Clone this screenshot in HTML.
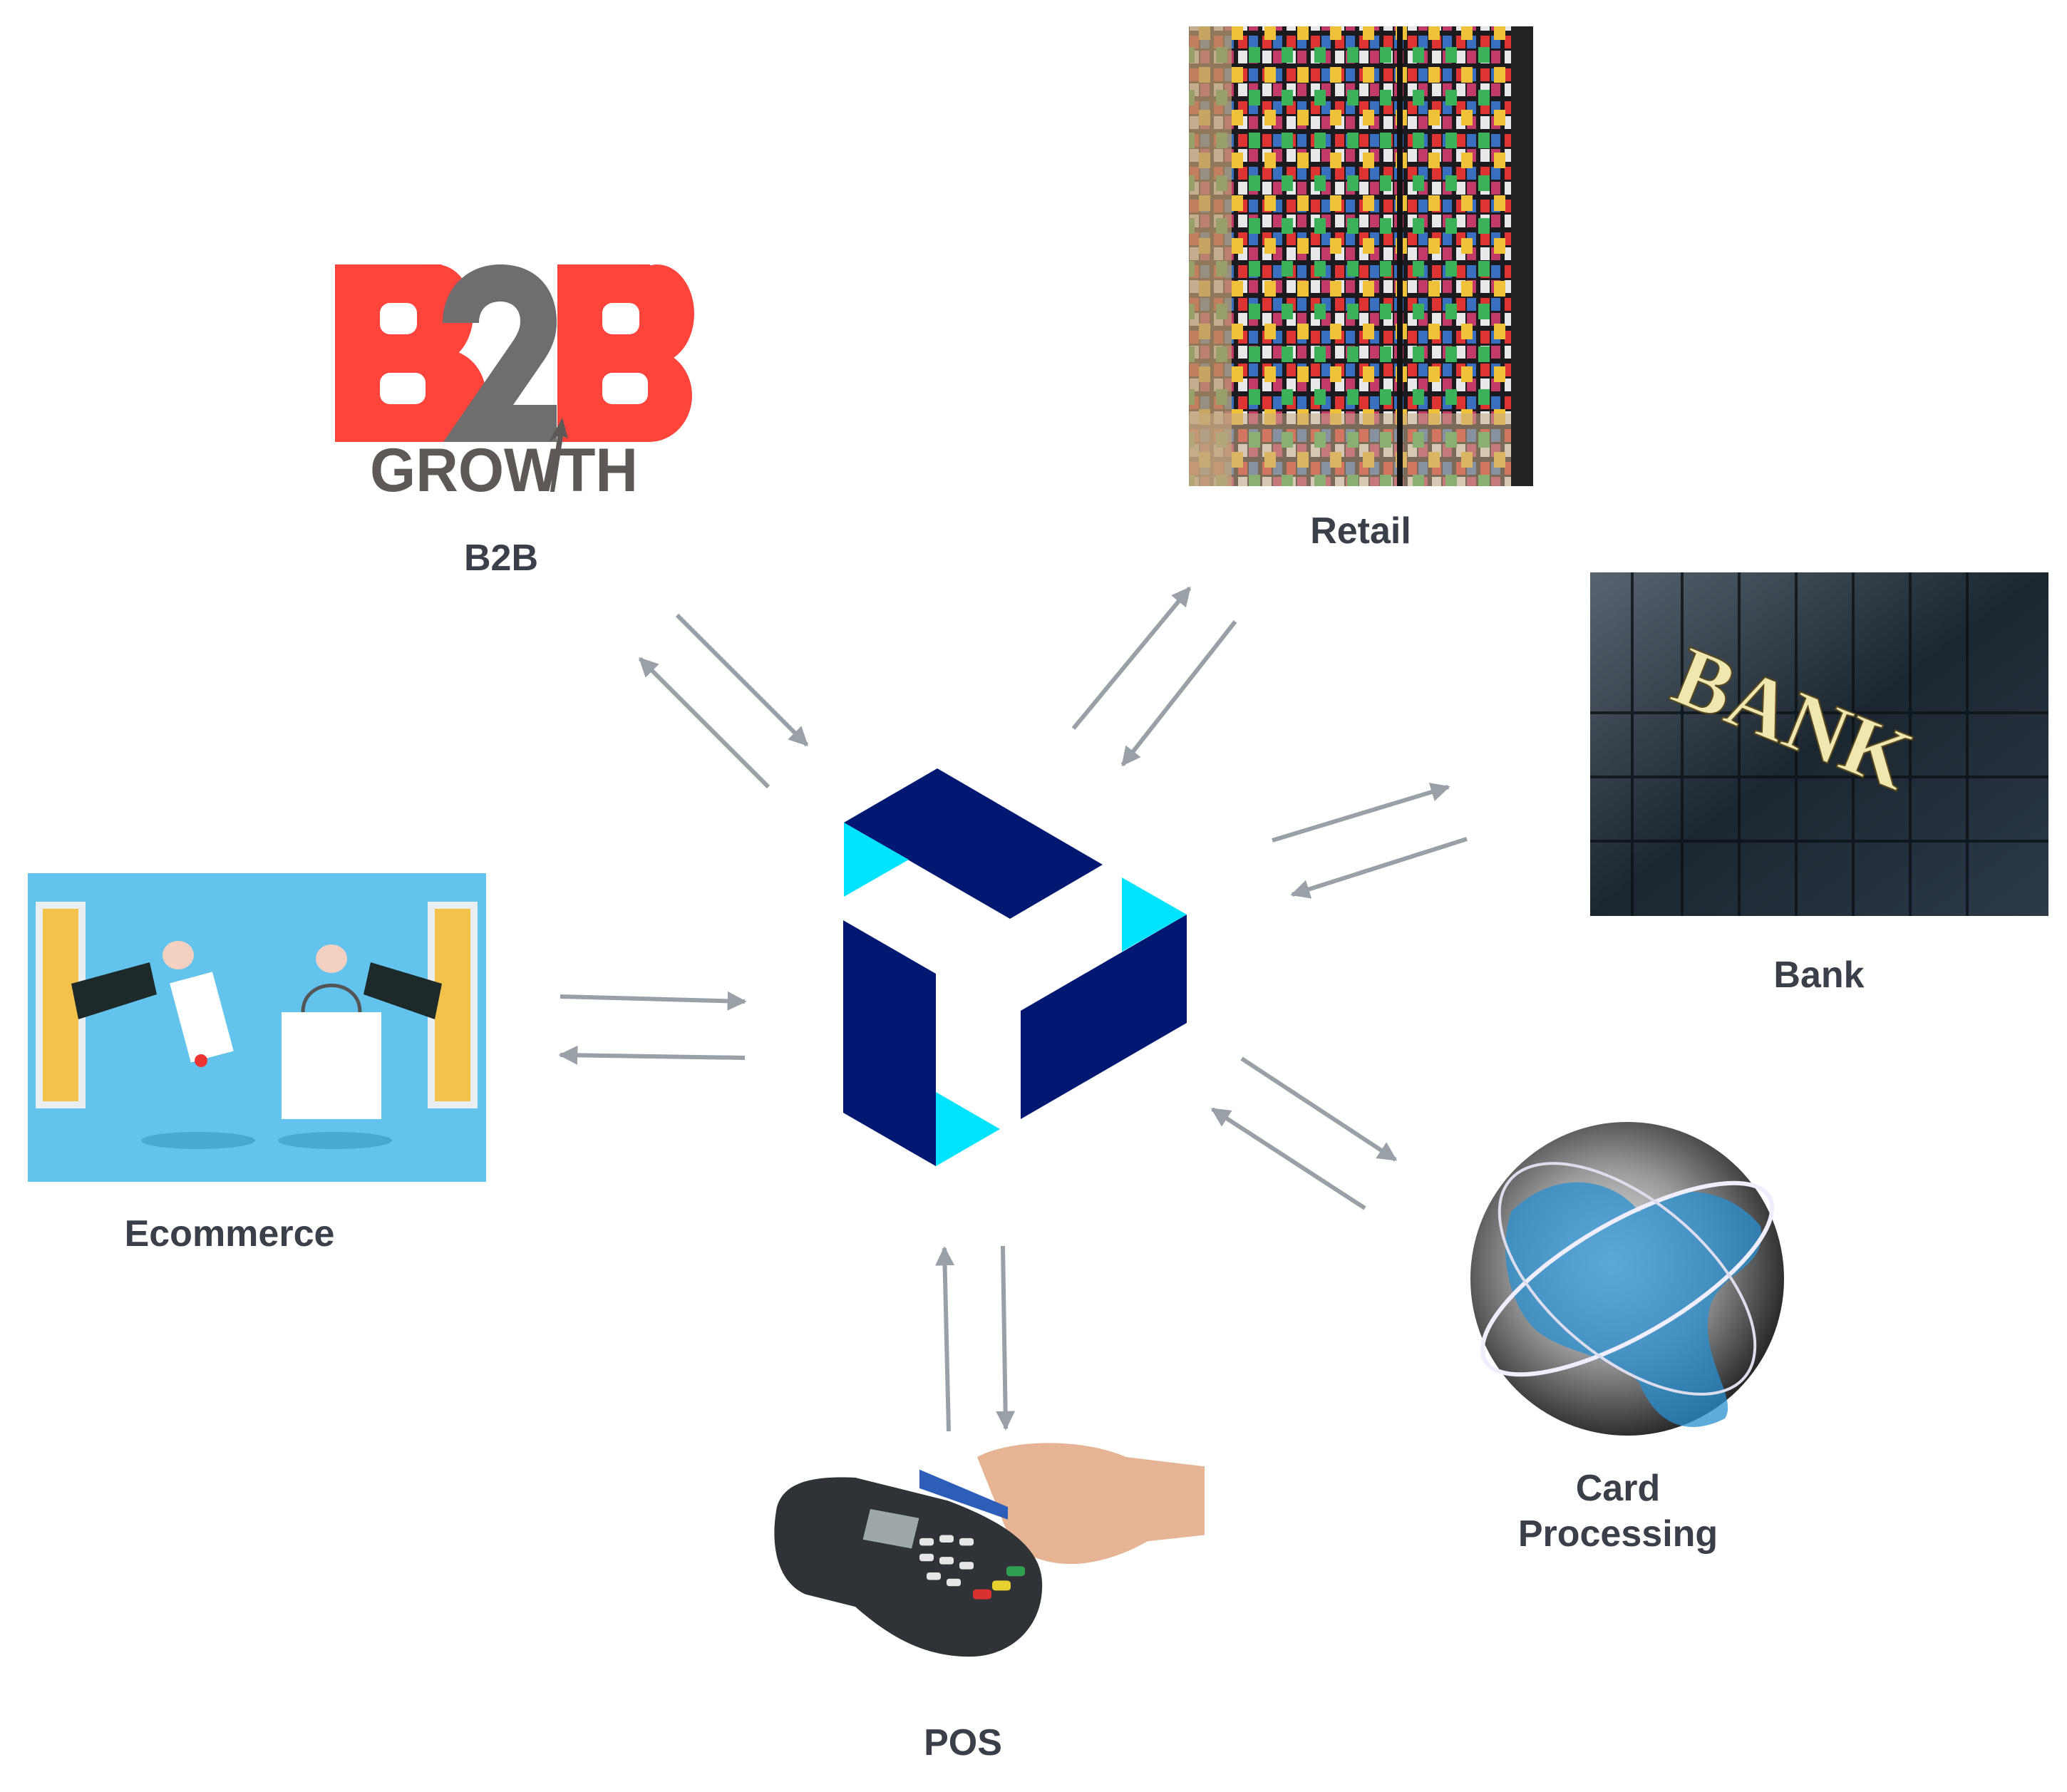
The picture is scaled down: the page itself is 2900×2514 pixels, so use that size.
<!DOCTYPE html>
<html><head><meta charset="utf-8"><style>
html,body{margin:0;padding:0;background:#fff;}
body{width:2900px;height:2514px;position:relative;overflow:hidden;font-family:"Liberation Sans",sans-serif;}
.lbl{position:absolute;font-weight:bold;font-size:52px;color:#3a3f4a;text-align:center;width:600px;line-height:64px;}
</style></head><body>
<svg width="2900" height="2514" viewBox="0 0 2900 2514" style="position:absolute;left:0;top:0">
<defs>
<marker id="ah" viewBox="0 0 10 10" refX="9" refY="5" markerWidth="4.5" markerHeight="4.5" orient="auto"><path d="M0,0 L10,5 L0,10 z" fill="#9aa0a8"/></marker>
<radialGradient id="gl" cx="0.45" cy="0.45" r="0.6"><stop offset="0" stop-color="#f4f4f4"/><stop offset="0.5" stop-color="#9a9a9a"/><stop offset="1" stop-color="#1a1a1a"/></radialGradient>
<linearGradient id="bk" x1="0" y1="0" x2="1" y2="1"><stop offset="0" stop-color="#5a6470"/><stop offset="0.5" stop-color="#1c2630"/><stop offset="1" stop-color="#2c3a48"/></linearGradient>
<pattern id="cards" width="34" height="46" patternUnits="userSpaceOnUse">
<rect width="34" height="46" fill="#1b1b1f"/>
<rect x="3" y="4" width="13" height="18" fill="#d33"/><rect x="18" y="4" width="13" height="18" fill="#3a6fc0"/>
<rect x="3" y="25" width="13" height="18" fill="#e8e8e8"/><rect x="18" y="25" width="13" height="18" fill="#c23a6a"/>
</pattern>
<pattern id="cards2" width="46" height="60" patternUnits="userSpaceOnUse">
<rect width="46" height="60" fill="none"/>
<rect x="4" y="6" width="16" height="22" fill="#3db15a"/><rect x="26" y="34" width="16" height="22" fill="#f0c23a"/>
</pattern>
</defs>

<!-- B2B logo -->
<g>
<rect x="470" y="371" width="150" height="249" fill="#fe443b"/>
<ellipse cx="612" cy="440" rx="52" ry="69" fill="#fe443b"/>
<ellipse cx="622" cy="555" rx="60" ry="65" fill="#fe443b"/>
<rect x="533" y="425" width="52" height="44" rx="14" fill="#fff"/>
<rect x="533" y="523" width="64" height="44" rx="14" fill="#fff"/>
<rect x="782" y="371" width="130" height="249" fill="#fe443b"/>
<ellipse cx="922" cy="440" rx="52" ry="69" fill="#fe443b"/>
<ellipse cx="911" cy="555" rx="60" ry="65" fill="#fe443b"/>
<rect x="845" y="425" width="52" height="44" rx="14" fill="#fff"/>
<rect x="845" y="523" width="64" height="44" rx="14" fill="#fff"/>
<path d="M621,453 C621,405 655,371 702,371 C752,371 781,405 781,452 C781,478 770,496 760,510 L720,568 L781,568 L781,620 L622,620 L720,478 C728,466 730,458 730,450 C730,433 718,423 702,423 C685,423 672,433 672,453 Z" fill="#6f6d6e"/>
<path d="M770,620 L789,586 L797,615 L790,612 L778,690 L772,690 L782,612 Z" fill="#5e5956"/>
<text x="519" y="689" font-family="Liberation Sans" font-weight="bold" font-size="86" fill="#5e5956" textLength="376" lengthAdjust="spacingAndGlyphs">GROWTH</text>
</g>

<!-- Retail -->
<rect x="1668" y="37" width="483" height="645" fill="url(#cards)"/>
<rect x="1668" y="37" width="483" height="645" fill="url(#cards2)"/>
<rect x="1668" y="37" width="60" height="645" fill="#b89a70" opacity="0.75"/>
<rect x="1668" y="580" width="483" height="102" fill="#c9ad86" opacity="0.55"/>
<rect x="1960" y="37" width="8" height="645" fill="#111"/>
<rect x="2120" y="37" width="31" height="645" fill="#222"/>

<!-- Bank -->
<rect x="2231" y="803" width="643" height="482" fill="url(#bk)"/>
<g stroke="#0c1218" stroke-width="4" opacity="0.8">
<line x1="2290" y1="803" x2="2290" y2="1285"/><line x1="2360" y1="803" x2="2360" y2="1285"/><line x1="2440" y1="803" x2="2440" y2="1285"/><line x1="2520" y1="803" x2="2520" y2="1285"/><line x1="2600" y1="803" x2="2600" y2="1285"/><line x1="2680" y1="803" x2="2680" y2="1285"/><line x1="2760" y1="803" x2="2760" y2="1285"/>
<line x1="2231" y1="1000" x2="2874" y2="1000"/><line x1="2231" y1="1090" x2="2874" y2="1090"/><line x1="2231" y1="1180" x2="2874" y2="1180"/>
</g>
<text x="2340" y="980" font-family="Liberation Serif" font-weight="bold" font-size="120" fill="#f0e6b0" stroke="#5a4a20" stroke-width="2" transform="rotate(22 2340 980)">BANK</text>

<!-- Ecommerce -->
<rect x="39" y="1225" width="643" height="433" fill="#64c3ec"/>
<rect x="55" y="1270" width="60" height="280" fill="#f2c24a" stroke="#e8eef2" stroke-width="10"/>
<rect x="605" y="1270" width="60" height="280" fill="#f2c24a" stroke="#e8eef2" stroke-width="10"/>
<polygon points="100,1380 210,1350 220,1395 110,1430" fill="#1e2a2a"/>
<polygon points="520,1350 620,1380 610,1430 510,1395" fill="#1e2a2a"/>
<rect x="250" y="1370" width="62" height="115" fill="#fff" transform="rotate(-15 280 1420)"/>
<circle cx="282" cy="1488" r="9" fill="#e33"/>
<rect x="395" y="1420" width="140" height="150" fill="#fff"/>
<path d="M425,1420 C425,1370 505,1370 505,1420" fill="none" stroke="#555" stroke-width="5"/>
<ellipse cx="278" cy="1600" rx="80" ry="12" fill="#4aa9d3"/>
<ellipse cx="470" cy="1600" rx="80" ry="12" fill="#4aa9d3"/>
<ellipse cx="250" cy="1340" rx="22" ry="20" fill="#f4d0c0"/>
<ellipse cx="465" cy="1345" rx="22" ry="20" fill="#f4d0c0"/>

<!-- Globe -->
<circle cx="2283" cy="1794" r="220" fill="url(#gl)"/>
<path d="M2120,1700 C2180,1640 2260,1650 2300,1700 C2340,1660 2420,1660 2470,1720 C2480,1780 2420,1780 2400,1830 C2380,1900 2440,1960 2420,1990 C2360,2020 2320,1990 2300,1940 C2260,1900 2200,1900 2160,1870 C2120,1840 2100,1760 2120,1700 Z" fill="#2a8fd0" opacity="0.75"/>
<ellipse cx="2283" cy="1794" rx="230" ry="80" fill="none" stroke="#eef" stroke-width="6" transform="rotate(-30 2283 1794)"/>
<ellipse cx="2283" cy="1794" rx="215" ry="110" fill="none" stroke="#dde" stroke-width="4" transform="rotate(40 2283 1794)"/>

<!-- POS -->
<g transform="matrix(1 0 0 0.875 0 241.6)">
<path d="M1371,2060 C1420,2030 1520,2030 1580,2060 L1690,2075 L1690,2185 L1610,2195 C1540,2240 1470,2245 1420,2200 Z" fill="#e6b394"/>
<polygon points="1290,2080 1414,2140 1414,2160 1290,2110" fill="#2c5db8"/>
<path d="M1090,2140 C1100,2100 1140,2090 1200,2093 L1330,2130 C1400,2160 1460,2200 1462,2260 C1465,2330 1420,2380 1360,2380 C1290,2380 1240,2340 1200,2300 L1130,2280 C1090,2260 1080,2200 1090,2140 Z" fill="#2f3236"/>
<rect x="1215" y="2150" width="70" height="50" fill="#9ea8a8" transform="rotate(12 1250 2175)"/>
<g fill="#e6e6e6">
<rect x="1290" y="2190" width="20" height="12" rx="4"/><rect x="1318" y="2185" width="20" height="12" rx="4"/><rect x="1346" y="2190" width="20" height="12" rx="4"/>
<rect x="1290" y="2215" width="20" height="12" rx="4"/><rect x="1318" y="2220" width="20" height="12" rx="4"/><rect x="1346" y="2228" width="20" height="12" rx="4"/>
<rect x="1300" y="2245" width="20" height="12" rx="4"/><rect x="1328" y="2255" width="20" height="12" rx="4"/>
</g>
<rect x="1365" y="2272" width="26" height="16" rx="5" fill="#d93030"/>
<rect x="1392" y="2258" width="26" height="16" rx="5" fill="#e8d030"/>
<rect x="1412" y="2235" width="26" height="16" rx="5" fill="#30a050"/>
</g>

<!-- Center logo -->
<polygon points="1184,1154 1315,1078 1547,1213 1417,1289" fill="#001872"/>
<polygon points="1184,1154 1275,1206 1184,1258" fill="#00e3ff"/>
<polygon points="1183,1291 1313,1366 1313,1636 1183,1561" fill="#001872"/>
<polygon points="1313,1532 1403,1584 1313,1636" fill="#00e3ff"/>
<polygon points="1432,1418 1665,1283 1665,1435 1432,1570" fill="#001872"/>
<polygon points="1574,1231 1665,1283 1574,1335" fill="#00e3ff"/>

<!-- Arrows -->
<g stroke="#9aa0a8" stroke-width="6" fill="none" marker-end="url(#ah)">
<line x1="950" y1="863" x2="1132" y2="1045"/>
<line x1="1078" y1="1104" x2="898" y2="924"/>
<line x1="1506" y1="1022" x2="1669" y2="825"/>
<line x1="1733" y1="872" x2="1575" y2="1073"/>
<line x1="1785" y1="1179" x2="2032" y2="1104"/>
<line x1="2058" y1="1177" x2="1813" y2="1255"/>
<line x1="1742" y1="1485" x2="1958" y2="1627"/>
<line x1="1915" y1="1695" x2="1701" y2="1556"/>
<line x1="1331" y1="2008" x2="1325" y2="1751"/>
<line x1="1407" y1="1748" x2="1411" y2="2004"/>
<line x1="786" y1="1398" x2="1045" y2="1405"/>
<line x1="1045" y1="1484" x2="786" y2="1480"/>
</g>
</svg>
<div class="lbl" style="left:403px;top:751px">B2B</div>
<div class="lbl" style="left:1609px;top:713px">Retail</div>
<div class="lbl" style="left:2252px;top:1336px">Bank</div>
<div class="lbl" style="left:22px;top:1699px">Ecommerce</div>
<div class="lbl" style="left:1970px;top:2056px">Card<br>Processing</div>
<div class="lbl" style="left:1051px;top:2413px">POS</div>
</body></html>
